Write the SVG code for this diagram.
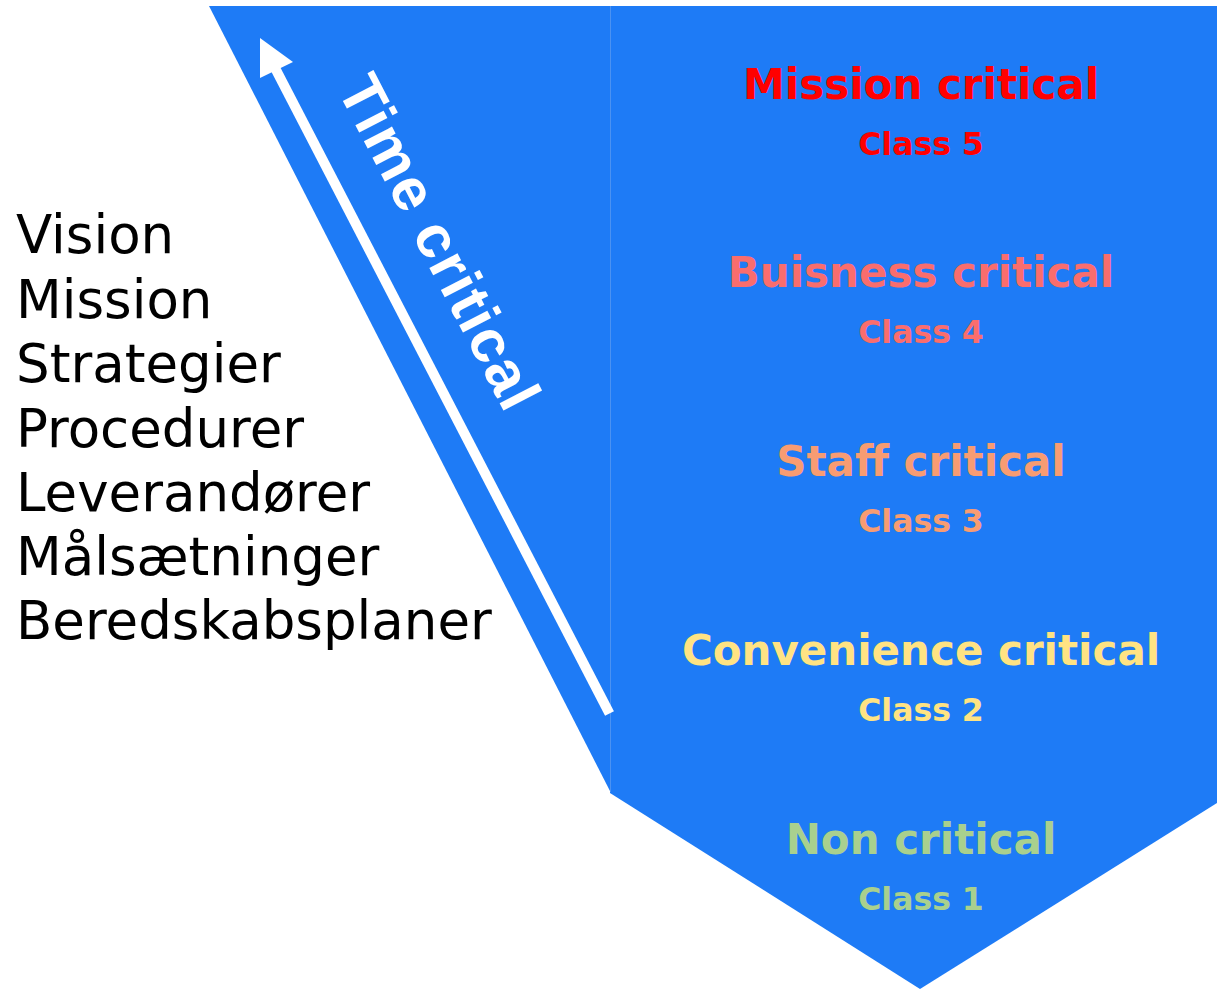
<svg xmlns="http://www.w3.org/2000/svg" width="1217" height="989" viewBox="0 0 1217 989">
<style>
.bg{fill:#1E7BF6}
.seam{stroke:#4B92F2;stroke-width:1}
.lst{font-family:"DejaVu Sans",Verdana,sans-serif;font-size:53px;fill:#000}
.main{font-family:"DejaVu Sans",Verdana,sans-serif;font-weight:bold;font-size:42px;text-anchor:middle}
.cls{font-family:"DejaVu Sans",Verdana,sans-serif;font-weight:bold;font-size:31.5px;text-anchor:middle}
.tc{font-family:Arial,"Liberation Sans",sans-serif;font-weight:700;font-size:60px;letter-spacing:1.5px;fill:#fff}
</style>
<rect width="1217" height="989" fill="#fff"/>
<g id="shape">
<polygon class="bg" points="209,6 611,6 611,793"/>
<polygon class="bg" points="610,6 1217,6 1217,803 920,989 610,793"/>
<line class="seam" x1="610.5" y1="6" x2="610.5" y2="792"/>
</g>
<g id="connectors">
<line x1="609.5" y1="713.5" x2="274" y2="66" stroke="#fff" stroke-width="10"/>
<polygon points="260,38 260,78 293,62" fill="#fff"/>
</g>
<g id="time-critical">
<text class="tc" transform="translate(336.5,88.5) rotate(62.6)">Time critical</text>
</g>
<g id="list">
<text class="lst" x="16" y="253">Vision</text>
<text class="lst" x="16" y="318">Mission</text>
<text class="lst" x="16" y="382">Strategier</text>
<text class="lst" x="16" y="447">Procedurer</text>
<text class="lst" x="16" y="511">Leverandører</text>
<text class="lst" x="16" y="575">Målsætninger</text>
<text class="lst" x="16" y="639">Beredskabsplaner</text>
</g>
<g id="class5" fill="#FF0000">
<text class="main" x="921" y="99">Mission critical</text>
<text class="cls" x="921" y="155">Class 5</text>
</g>
<g id="class4" fill="#FA6D6D">
<text class="main" x="921" y="287">Buisness critical</text>
<text class="cls" x="921" y="343">Class 4</text>
</g>
<g id="class3" fill="#F89C72">
<text class="main" x="921" y="476">Staff critical</text>
<text class="cls" x="921" y="532">Class 3</text>
</g>
<g id="class2" fill="#FFE383">
<text class="main" x="921" y="665">Convenience critical</text>
<text class="cls" x="921" y="721">Class 2</text>
</g>
<g id="class1" fill="#A9D08E">
<text class="main" x="921" y="854">Non critical</text>
<text class="cls" x="921" y="910">Class 1</text>
</g>
</svg>
